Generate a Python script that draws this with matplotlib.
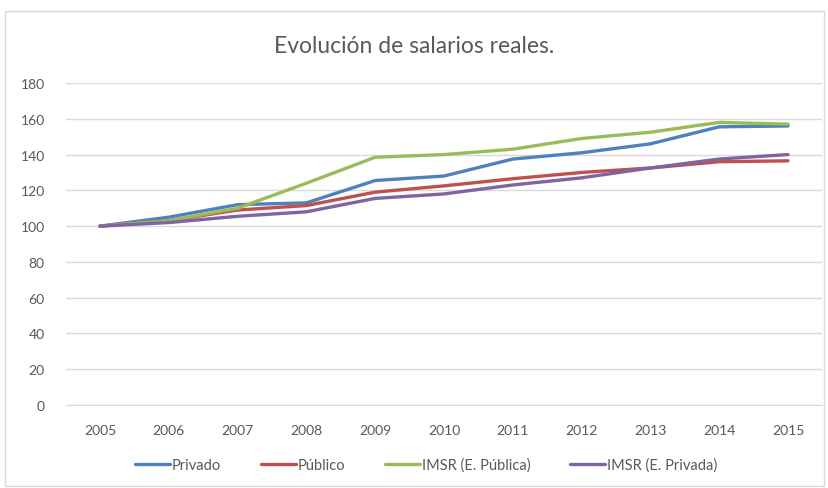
import matplotlib.pyplot as plt
from matplotlib.patches import Rectangle

plt.rcParams['font.family'] = ['Lato', 'DejaVu Sans']

# Datos (índice 2005 = 100)
anios = ['2005', '2006', '2007', '2008', '2009', '2010', '2011', '2012', '2013', '2014', '2015']
privado = [100, 105, 112, 113, 125.5, 128, 137.5, 141, 146, 155.5, 156]
publico = [100, 103, 109, 111.5, 119, 122.5, 126.5, 130, 132.5, 136, 136.5]
imsr_publica = [100, 103, 110, 124, 138.5, 140, 143, 149, 152.5, 158, 157]
imsr_privada = [100, 102, 105.5, 108, 115.5, 118, 123, 127, 132.5, 137.5, 140]

series = [
    ('Privado', privado, '#4F81BD'),
    ('Público', publico, '#C0504D'),
    ('IMSR (E. Pública)', imsr_publica, '#9BBB59'),
    ('IMSR (E. Privada)', imsr_privada, '#8064A2'),
]

fig = plt.figure(figsize=(8.29, 4.89), dpi=100)
fig.patches.append(Rectangle((0.006, 0.005), 0.988, 0.97, transform=fig.transFigure,
                             fill=False, edgecolor='#D9D9D9', linewidth=1))

ax = fig.add_axes([0.0791, 0.1697, 0.913, 0.6585])
x = range(len(anios))
for nombre, valores, color in series:
    ax.plot(x, valores, color=color, linewidth=2.4, label=nombre, solid_capstyle='round')

ax.set_xlim(-0.5, len(anios) - 0.5)
ax.set_ylim(0, 180)
ax.set_yticks(range(0, 181, 20))
ax.set_xticks(list(x))
ax.set_xticklabels(anios)
ax.grid(axis='y', color='#D9D9D9', linewidth=1)
ax.set_axisbelow(True)
for s in ['top', 'right', 'left']:
    ax.spines[s].set_visible(False)
ax.spines['bottom'].set_color('#D9D9D9')
ax.tick_params(length=0, labelsize=10, colors='#595959', pad=14)
ax.tick_params(axis='y', pad=15)

fig.text(0.5, 0.905, 'Evolución de salarios reales.', ha='center', va='center',
         fontsize=16.5, color='#595959')

fig.legend(loc='center', bbox_to_anchor=(0.514, 0.047), ncol=4, frameon=False,
           fontsize=10.5, labelcolor='#595959', handlelength=2.4, columnspacing=2.7,
           handletextpad=0.15)

fig.savefig('out.png', dpi=100)
